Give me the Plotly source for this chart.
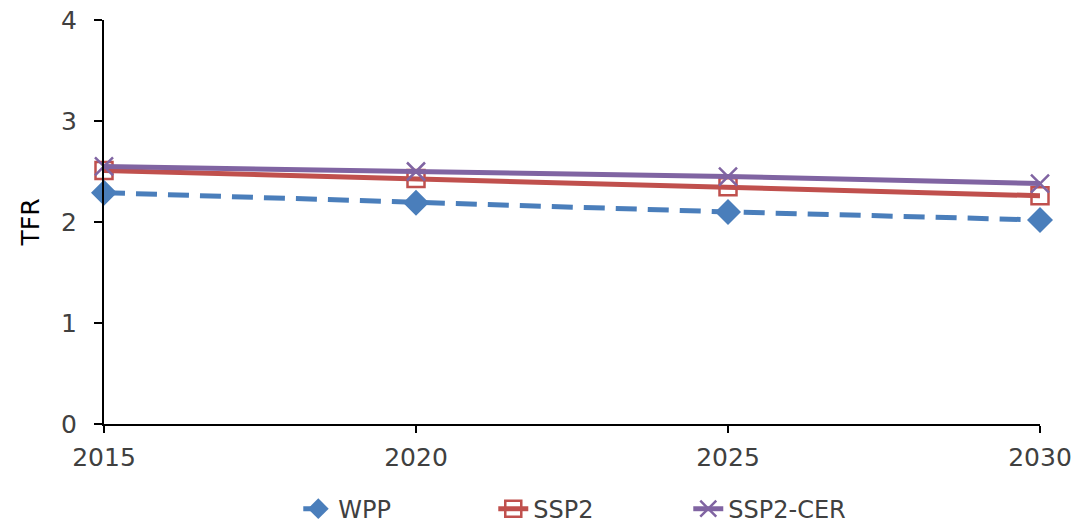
import plotly.graph_objects as go

years = [2015, 2020, 2025, 2030]
wpp = [2.29, 2.19, 2.10, 2.02]
ssp2 = [2.51, 2.43, 2.35, 2.26]
ssp2_cer = [2.55, 2.50, 2.45, 2.38]

FONT = "DejaVu Sans"
TEXT = "#404040"

fig = go.Figure()
fig.add_trace(go.Scatter(
    x=years, y=wpp, name="WPP", mode="lines+markers", cliponaxis=False,
    line=dict(color="#4A7EBB", width=5, dash="21px,11px"),
    marker=dict(symbol="diamond", size=20, color="#4A7EBB"),
))
fig.add_trace(go.Scatter(
    x=years, y=ssp2, name="SSP2", mode="lines+markers", cliponaxis=False,
    line=dict(color="#C0504D", width=5),
    marker=dict(symbol="square-open", size=17, color="#C0504D", line=dict(width=2.5)),
))
fig.add_trace(go.Scatter(
    x=years, y=ssp2_cer, name="SSP2-CER", mode="lines+markers", cliponaxis=False,
    line=dict(color="#8064A2", width=5),
    marker=dict(symbol="x-thin-open", size=18, color="#8064A2", line=dict(width=2.5, color="#8064A2")),
))

fig.update_layout(
    width=1084, height=524,
    margin=dict(l=104, r=44, t=20, b=100, autoexpand=False),
    paper_bgcolor="white", plot_bgcolor="white",
    font=dict(family=FONT, size=24, color=TEXT),
    legend=dict(
        orientation="h", xref="container", x=0.545, xanchor="center",
        yref="paper", y=-0.155, yanchor="top",
        font=dict(size=24, color=TEXT, family=FONT),
        entrywidth=150, entrywidthmode="pixels",
        traceorder="normal",
    ),
    showlegend=True,
)
fig.update_xaxes(
    range=[2015, 2030], tickvals=years, ticktext=[str(y) for y in years],
    showline=True, linecolor="black", linewidth=2, showgrid=False, zeroline=False,
    ticks="outside", ticklen=7, tickwidth=2, tickcolor="black",
    ticklabelstandoff=3,
    tickfont=dict(size=25, color=TEXT, family=FONT),
)
fig.update_yaxes(
    range=[0, 4], dtick=1,
    showline=True, linecolor="black", linewidth=2, showgrid=False, zeroline=False,
    ticks="outside", ticklen=8, tickwidth=2, tickcolor="black",
    ticklabelstandoff=12,
    tickfont=dict(size=25, color=TEXT, family=FONT),
    title=dict(text="TFR", font=dict(size=25, color="black", family=FONT), standoff=14),
)

fig.write_html("out.html")
